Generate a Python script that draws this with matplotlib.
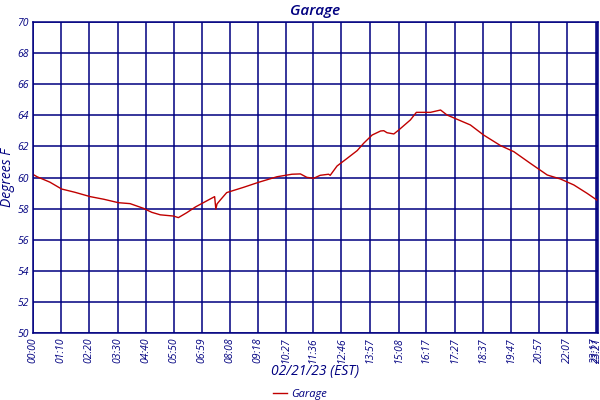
import matplotlib
matplotlib.use('Agg')
import matplotlib.pyplot as plt

# sample times (minutes after midnight) and garage temperature
minutes = [0, 10, 42, 71, 104, 142, 176, 212, 241, 274, 295, 316, 349, 361,
           382, 403, 423, 451, 454, 457, 465, 481, 523, 560, 606, 643, 664,
           680, 697, 713, 734, 738, 755, 780, 805, 821, 842, 863, 871, 879,
           896, 908, 937, 952, 987, 1012, 1028, 1057, 1086, 1119, 1161, 1194,
           1235, 1277, 1310, 1343, 1376, 1403]
temps = [60.2, 60.05, 59.7, 59.26, 59.05, 58.77, 58.6, 58.38, 58.32, 58.02,
         57.76, 57.6, 57.52, 57.42, 57.74, 58.1, 58.38, 58.77, 57.97, 58.3,
         58.55, 59.03, 59.37, 59.69, 60.05, 60.21, 60.23, 60.01, 59.95, 60.14,
         60.21, 60.14, 60.74, 61.23, 61.73, 62.2, 62.73, 62.99, 63.01, 62.88,
         62.8, 63.05, 63.7, 64.19, 64.19, 64.34, 64.02, 63.7, 63.38, 62.73,
         62.05, 61.66, 60.91, 60.16, 59.9, 59.52, 58.98, 58.5]

tick_labels = ['00:00', '01:10', '02:20', '03:30', '04:40', '05:50', '06:59',
               '08:08', '09:18', '10:27', '11:36', '12:46', '13:57', '15:08',
               '16:17', '17:27', '18:37', '19:47', '20:57', '22:07', '23:17',
               '23:21']
y_ticks = [50, 52, 54, 56, 58, 60, 62, 64, 66, 68, 70]

NAVY = '#000080'
RED = '#C00000'
FONT = ['Open Sans', 'DejaVu Sans']


def to_min(s):
    h, m = s.split(':')
    return int(h) * 60 + int(m)


def main():
    plt.rcParams['font.family'] = FONT
    fig = plt.figure(figsize=(6, 4), dpi=100)
    ax = fig.add_axes([0.055, 0.1675, 0.9417, 0.7775])

    ax.plot(minutes, temps, color=RED, lw=1.0, label='Garage')

    ax.set_xlim(0, 1403)
    ax.set_ylim(50, 70)
    ax.set_xticks([to_min(t) for t in tick_labels])
    ax.set_xticklabels(tick_labels, rotation=90, fontsize=7.5,
                       fontstyle='italic', color=NAVY)
    ax.set_yticks(y_ticks)
    ax.set_yticklabels([str(v) for v in y_ticks], fontsize=7.5,
                       fontstyle='italic', color=NAVY)
    ax.tick_params(length=0, pad=3)
    ax.grid(True, color=NAVY, lw=1.1)
    ax.set_axisbelow(True)
    for s in ax.spines.values():
        s.set_color(NAVY)
        s.set_linewidth(1.1)

    ax.set_title('Garage', fontsize=11, fontweight='semibold',
                 fontstyle='italic', color=NAVY, pad=5)
    ax.set_ylabel('Degrees F', fontsize=10, fontstyle='italic', color=NAVY,
                  labelpad=2)
    ax.set_xlabel('02/21/23 (EST)', fontsize=10, fontstyle='italic',
                  color=NAVY, labelpad=1)

    leg = fig.legend(loc='lower center', bbox_to_anchor=(0.5, -0.025),
                     frameon=False, fontsize=8, handlelength=1.2,
                     handletextpad=0.4)
    for t in leg.get_texts():
        t.set_color(NAVY)
        t.set_fontstyle('italic')

    fig.savefig('out.png', dpi=100)


if __name__ == '__main__':
    main()
